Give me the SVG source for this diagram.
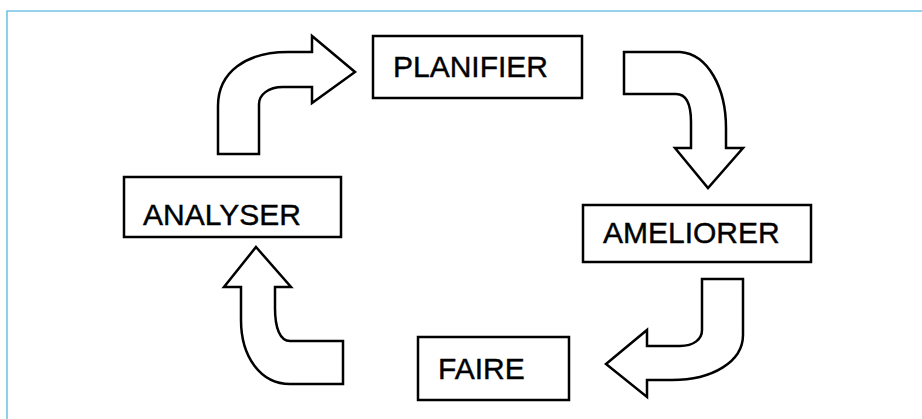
<svg xmlns="http://www.w3.org/2000/svg" width="922" height="419" viewBox="0 0 922 419">
<style>
.box{fill:#fff;stroke:#000;stroke-width:2.5}
.lbl{font-family:"Liberation Sans",Arial,sans-serif;font-size:30px;fill:#000;stroke:#000;stroke-width:0.4}
.arr{fill:#fff;stroke:#000;stroke-width:2.5;stroke-linejoin:miter}
.frame{fill:none;stroke:#74c3e6;stroke-width:1.6}
</style>
<rect width="922" height="419" fill="#fff"/>
<path class="frame" d="M7,430 L7,11 L930,11"/>
<g id="connectors">
<path class="arr" d="M218,154 L218,106 C218,72 246,52 288,52 L312,52 L312,36 L355,72 L312,103 L312,87 L283,87 C268,87 259,95 259,104 L259,154 Z"/>
<path class="arr" d="M624,52 L680,52 C708,54 726,88 726,128 L726,148 L743,148 L708,188 L675,148 L691,148 L691,122 C691,104 686,94 676,94 L624,94 Z"/>
<path class="arr" d="M702,279 L743,279 L743,335 C743,362 712,380 672,380 L647,380 L647,397 L606,364 L647,330 L647,346 L680,346 C694,346 702,339 702,330 Z"/>
<path class="arr" d="M256,247 L291,287 L275,287 L275,308 C275,328 280,341 290,341 L343,341 L343,384 L290,384 C260,384 241,356 241,320 L241,287 L224,287 Z"/>
</g>
<g id="planifier">
<rect class="box" x="373" y="36" width="209" height="62"/>
<text class="lbl" x="393" y="77">PLANIFIER</text>
</g>
<g id="ameliorer">
<rect class="box" x="583" y="205" width="228" height="57"/>
<text class="lbl" x="603" y="243">AMELIORER</text>
</g>
<g id="faire">
<rect class="box" x="418" y="337" width="151" height="63"/>
<text class="lbl" x="438" y="379">FAIRE</text>
</g>
<g id="analyser">
<rect class="box" x="124" y="177" width="217" height="60"/>
<text class="lbl" x="143" y="225">ANALYSER</text>
</g>
</svg>
